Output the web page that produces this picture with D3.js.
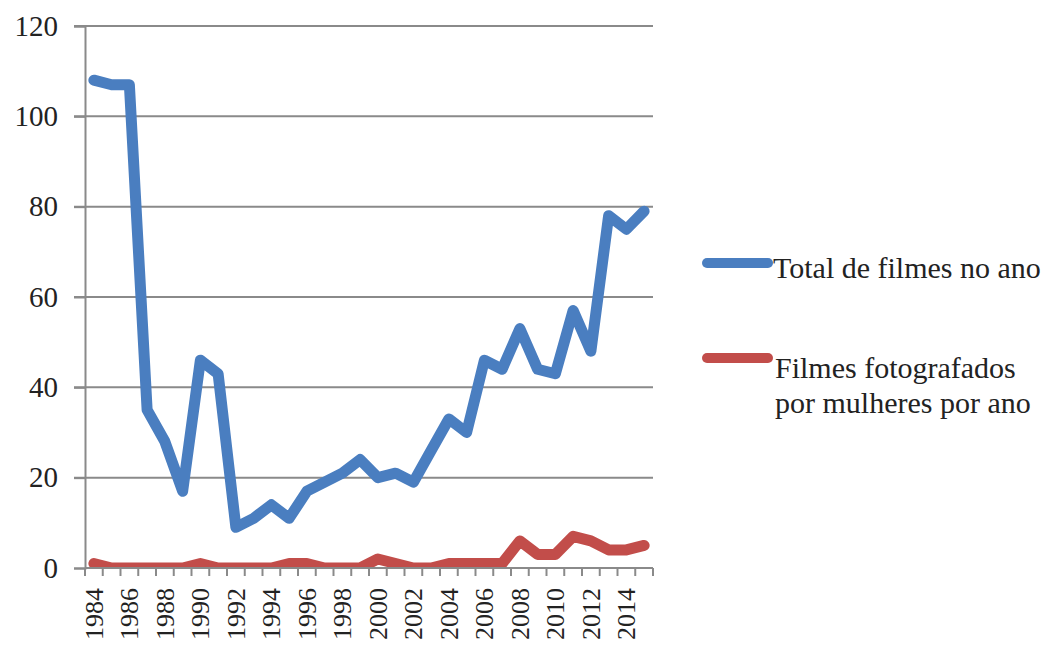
<!DOCTYPE html>
<html><head><meta charset="utf-8">
<script src="https://cdn.jsdelivr.net/npm/d3@7"></script>
<style>body{margin:0;background:#fff}svg{display:block}
svg text{font-family:"Liberation Serif","DejaVu Serif","Times New Roman",serif;}</style>
</head><body>
<script>
const years = d3.range(1984, 2016);
const totalFilms = [108,107,107,35,28,17,46,43,9,11,14,11,17,19,21,24,20,21,19,26,33,30,46,44,53,44,43,57,48,78,75,79];
const womenFilms = [1,0,0,0,0,0,1,0,0,0,0,1,1,0,0,0,2,1,0,0,1,1,1,1,6,3,3,7,6,4,4,5];
const yTicks = [0,20,40,60,80,100,120];
const xLabels = [1984,1986,1988,1990,1992,1994,1996,1998,2000,2002,2004,2006,2008,2010,2012,2014];
const seriesNames = ["Total de filmes no ano", ["Filmes fotografados","por mulheres por ano"]];
const colors = ["#4A7EC0", "#C24D4A"];

(function(){
const W = 1047, H = 650;
const pL = 85, pR = 653, pT = 26, pB = 568;
const svg = d3.select("body").append("svg").attr("width", W).attr("height", H);

const x = d3.scaleBand().domain(years).range([pL, pR]).padding(0);
const y = d3.scaleLinear().domain([0, 120]).range([pB, pT]);

// gridlines
svg.append("g").selectAll("line").data(yTicks.filter(d => d > 0)).join("line")
  .attr("x1", pL - 11).attr("x2", pR).attr("y1", d => y(d)).attr("y2", d => y(d))
  .attr("stroke", "#8a8a8a").attr("stroke-width", 2);

// y axis
const yAxis = d3.axisLeft(y).tickValues(yTicks).tickSize(11).tickPadding(16).tickFormat(d3.format("d"));
const gy = svg.append("g").attr("transform", `translate(${pL},0)`).call(yAxis);
gy.attr("font-family", null);
gy.select(".domain").attr("stroke", "#8a8a8a").attr("stroke-width", 2);
gy.selectAll(".tick line").attr("stroke", "#8a8a8a").attr("stroke-width", 2);
gy.selectAll("text").attr("font-size", 29).attr("fill", "#222");

// clip
svg.append("clipPath").attr("id", "clip").append("rect")
  .attr("x", pL).attr("y", 0).attr("width", pR - pL + 10).attr("height", pB);

const line = d3.line().x((d, i) => x(years[i]) + x.bandwidth() / 2).y(d => y(d));
[totalFilms, womenFilms].forEach((s, k) => {
  svg.append("path").datum(s).attr("d", line).attr("clip-path", "url(#clip)")
    .attr("fill", "none").attr("stroke", colors[k]).attr("stroke-width", 11)
    .attr("stroke-linejoin", "round").attr("stroke-linecap", "round");
});

// x axis
const boundaries = years.map(v => x(v)).concat([pR]);
const gx = svg.append("g");
gx.append("line").attr("x1", pL).attr("x2", pR).attr("y1", pB).attr("y2", pB)
  .attr("stroke", "#8a8a8a").attr("stroke-width", 2);
gx.selectAll("line.t").data(boundaries).join("line").attr("class", "t")
  .attr("x1", d => d).attr("x2", d => d).attr("y1", pB).attr("y2", pB + 8)
  .attr("stroke", "#8a8a8a").attr("stroke-width", 2);
gx.selectAll("text").data(xLabels).join("text")
  .attr("transform", d => `translate(${x(d) + x.bandwidth() / 2 + 9},${pB + 20}) rotate(-90)`)
  .attr("text-anchor", "end").attr("font-size", 26).attr("fill", "#222")
  .text(d => d);

// legend
const lg = svg.append("g");
const legY = [263, 358];
legY.forEach((ly, k) => {
  lg.append("line").attr("x1", 707).attr("x2", 768).attr("y1", ly).attr("y2", ly)
    .attr("stroke", colors[k]).attr("stroke-width", 10).attr("stroke-linecap", "round");
});
lg.append("text").attr("x", 773).attr("y", 278).attr("font-size", 30)
  .attr("fill", "#222").text(seriesNames[0]);
const t2 = lg.append("text").attr("font-size", 30).attr("fill", "#222");
seriesNames[1].forEach((s, i) => {
  t2.append("tspan").attr("x", 775).attr("y", 378 + i * 35).text(s);
});
})();
</script>
</body></html>
